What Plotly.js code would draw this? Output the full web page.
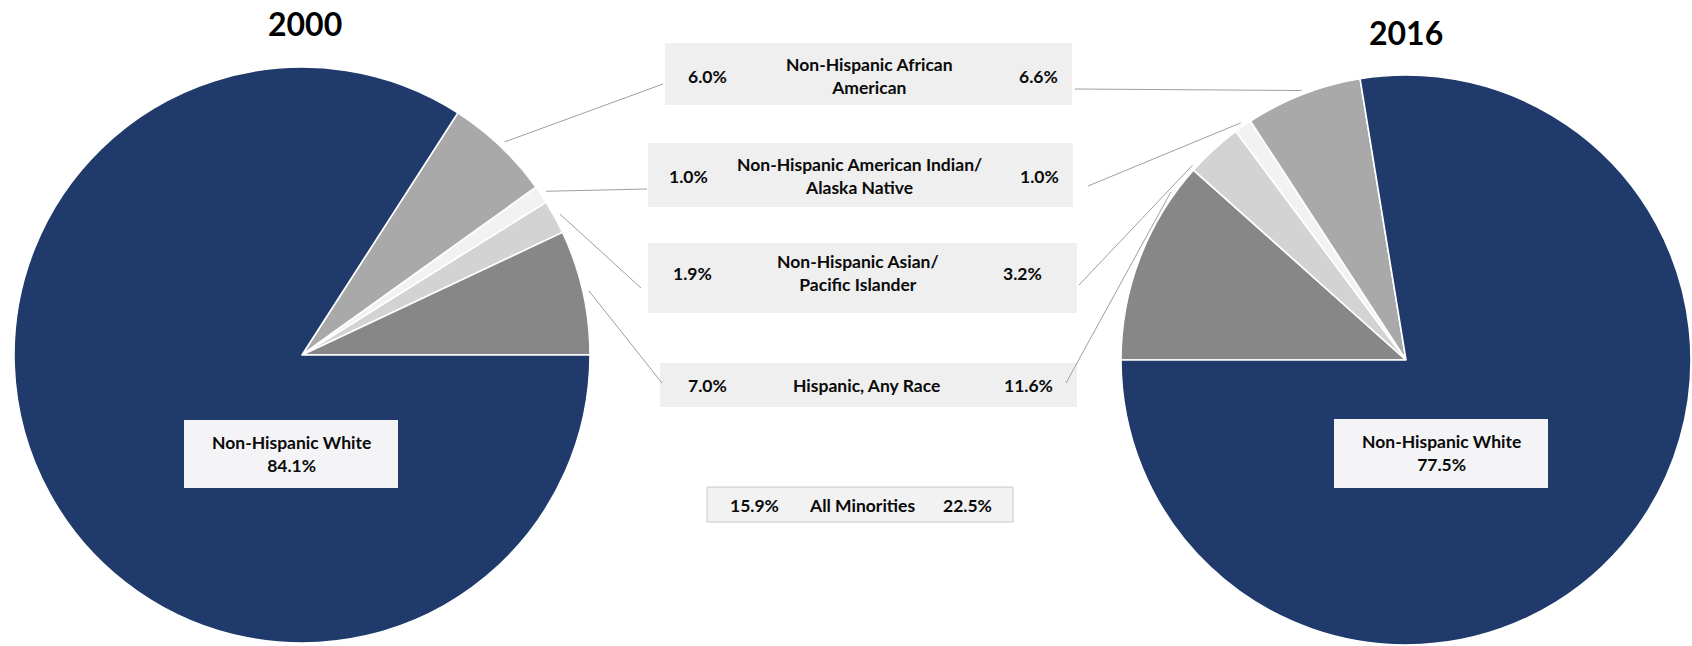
<!DOCTYPE html>
<html>
<head>
<meta charset="utf-8">
<script src="https://cdn.plot.ly/plotly-3.0.1.min.js"></script>
<style>html,body{margin:0;padding:0;background:#fff;}#chart{width:1692px;height:646px;}</style>
</head>
<body>
<div id="chart"></div>
<script>
// ---------------- DATA ----------------
const categories = ["Non-Hispanic African American", "Non-Hispanic American Indian/Alaska Native", "Non-Hispanic Asian/Pacific Islander", "Hispanic, Any Race", "Non-Hispanic White"];
const categoryLabels = ["Non-Hispanic African<br>American", "Non-Hispanic American Indian/<br>Alaska Native", "Non-Hispanic Asian/<br>Pacific Islander", "Hispanic, Any Race"];
const whiteLabel = "Non-Hispanic White";
const years = ["2000", "2016"];
const values2000 = [6.0, 1.0, 1.9, 7.0, 84.1];
const values2016 = [6.6, 1.0, 3.2, 11.6, 77.5];
const minoritiesLabel = "All Minorities";
const minorities2000 = 15.9;
const minorities2016 = 22.5;

// ---------------- STYLE / LAYOUT ----------------
const W = 1692, H = 646;
const sliceColors = ["#A9A9A9", "#F2F2F2", "#D3D3D3", "#878787", "#1F3A6B"];
const FONT = "Lato, 'Open Sans', Arial, sans-serif";
const pies = [
  {cx: 302, cy: 355, r: 288},
  {cx: 1406, cy: 360, r: 285}
];
const titlePos = [{x: 305, y: 24}, {x: 1406, y: 32}];
const rowBoxes = [
  {x0: 665, x1: 1072, y0: 43, y1: 105},
  {x0: 648, x1: 1073, y0: 143, y1: 207},
  {x0: 648, x1: 1077, y0: 243, y1: 313},
  {x0: 660, x1: 1077, y0: 363, y1: 407}
];
const rowText = [
  {l: 707, c: 869, r: 1038, y: 76},
  {l: 688, c: 859, r: 1039, y: 176},
  {l: 692, c: 858, r: 1023, y: 273},
  {l: 707, c: 866, r: 1028, y: 385}
];
const leaderLeftEnds = [[663, 84], [647, 189], [641, 288], [662, 383]];
const leaderRightEnds = [[1075, 89], [1088, 186], [1079, 285], [1066, 383]];
const leaderFracLeft = [0.5, 0.5, 0.5, 0.5];
const leaderFracRight = [0.5, 0.5, 0.05, 0.85];
const minBox = {x0: 707, x1: 1013, y0: 487, y1: 522};
const minText = {l: 754, c: 862, r: 967, y: 505};
const whiteBoxes = [
  {x0: 184, x1: 398, y0: 420, y1: 488, cx: 291, cy: 454},
  {x0: 1334, x1: 1548, y0: 419, y1: 488, cx: 1441, cy: 453}
];

const px = x => x / W;
const py = y => 1 - y / H;
const fmt = v => v.toFixed(1) + "%";

// slice order for drawing: left pie clockwise minorities then white; right pie clockwise with minorities reversed
const orderLeft = [0, 1, 2, 3, 4];
const orderRight = [3, 2, 1, 0, 4];

function sumMinor(vals) { return vals.slice(0, 4).reduce((a, b) => a + b, 0); }
const total2000 = values2000.reduce((a, b) => a + b, 0);
const rotLeft = 90 - 360 * sumMinor(values2000) / total2000;   // minorities end at 3 o'clock
const rotRight = -90;                                             // minorities start at 9 o'clock

function pieTrace(vals, order, rot, geo) {
  return {
    type: "pie",
    values: order.map(i => vals[i]),
    labels: order.map(i => categories[i]),
    marker: {colors: order.map(i => sliceColors[i]), line: {color: "#FFFFFF", width: 1.6}},
    sort: false,
    direction: "clockwise",
    rotation: rot,
    textinfo: "none",
    textposition: "none",
    hoverinfo: "label+percent",
    showlegend: false,
    domain: {x: [px(geo.cx - geo.r), px(geo.cx + geo.r)], y: [py(geo.cy + geo.r), py(geo.cy - geo.r)]}
  };
}

// angle (deg clockwise from top) inside slice for category k
function sliceAngle(vals, order, rot, k, frac) {
  const total = vals.reduce((a, b) => a + b, 0);
  let a = rot;
  for (const i of order) {
    const span = 360 * vals[i] / total;
    if (i === k) return a + span * frac;
    a += span;
  }
  return a;
}
function edgePoint(geo, angDeg, extra) {
  const t = angDeg * Math.PI / 180;
  return [geo.cx + (geo.r + extra) * Math.sin(t), geo.cy - (geo.r + extra) * Math.cos(t)];
}

const shapes = [];
const annotations = [];
const labFont = {family: FONT, size: 17.5, color: "#0A0A0A", weight: "bold"};

// middle rows
for (let k = 0; k < 4; k++) {
  const b = rowBoxes[k];
  shapes.push({type: "rect", xref: "paper", yref: "paper", x0: px(b.x0), x1: px(b.x1), y0: py(b.y1), y1: py(b.y0),
    fillcolor: "#EFEFEF", line: {width: 0}, layer: "below"});
  const t = rowText[k];
  annotations.push({xref: "paper", yref: "paper", x: px(t.l), y: py(t.y), text: fmt(values2000[k]), showarrow: false, xanchor: "center", yanchor: "middle", font: labFont});
  annotations.push({xref: "paper", yref: "paper", x: px(t.c), y: py(t.y), text: categoryLabels[k], showarrow: false, xanchor: "center", yanchor: "middle", font: labFont, align: "center"});
  annotations.push({xref: "paper", yref: "paper", x: px(t.r), y: py(t.y), text: fmt(values2016[k]), showarrow: false, xanchor: "center", yanchor: "middle", font: labFont});
  // leaders
  const aL = sliceAngle(values2000, orderLeft, rotLeft, k, leaderFracLeft[k]);
  const pL = edgePoint(pies[0], aL, 6);
  shapes.push({type: "line", xref: "paper", yref: "paper", x0: px(pL[0]), y0: py(pL[1]), x1: px(leaderLeftEnds[k][0]), y1: py(leaderLeftEnds[k][1]),
    line: {color: "#9E9E9E", width: 1}});
  const aR = sliceAngle(values2016, orderRight, rotRight, k, leaderFracRight[k]);
  const pR = edgePoint(pies[1], aR, 4);
  shapes.push({type: "line", xref: "paper", yref: "paper", x0: px(leaderRightEnds[k][0]), y0: py(leaderRightEnds[k][1]), x1: px(pR[0]), y1: py(pR[1]),
    line: {color: "#9E9E9E", width: 1}});
}

// all minorities box
shapes.push({type: "rect", xref: "paper", yref: "paper", x0: px(minBox.x0), x1: px(minBox.x1), y0: py(minBox.y1), y1: py(minBox.y0),
  fillcolor: "#F2F2F2", line: {color: "#C8C8C8", width: 1}, layer: "below"});
annotations.push({xref: "paper", yref: "paper", x: px(minText.l), y: py(minText.y), text: fmt(minorities2000), showarrow: false, xanchor: "center", yanchor: "middle", font: labFont});
annotations.push({xref: "paper", yref: "paper", x: px(minText.c), y: py(minText.y), text: minoritiesLabel, showarrow: false, xanchor: "center", yanchor: "middle", font: labFont});
annotations.push({xref: "paper", yref: "paper", x: px(minText.r), y: py(minText.y), text: fmt(minorities2016), showarrow: false, xanchor: "center", yanchor: "middle", font: labFont});

// white labels
const whiteVals = [values2000[4], values2016[4]];
for (let j = 0; j < 2; j++) {
  const b = whiteBoxes[j];
  shapes.push({type: "rect", xref: "paper", yref: "paper", x0: px(b.x0), x1: px(b.x1), y0: py(b.y1), y1: py(b.y0),
    fillcolor: "#F4F4F6", line: {width: 0}, layer: "above"});
  annotations.push({xref: "paper", yref: "paper", x: px(b.cx), y: py(b.cy), text: whiteLabel + "<br>" + fmt(whiteVals[j]), showarrow: false,
    xanchor: "center", yanchor: "middle", align: "center", font: labFont});
}

// titles
for (let j = 0; j < 2; j++) {
  annotations.push({xref: "paper", yref: "paper", x: px(titlePos[j].x), y: py(titlePos[j].y), text: years[j], showarrow: false,
    xanchor: "center", yanchor: "middle", font: {family: FONT, size: 32, color: "#000000", weight: "bold"}});
}

const data = [
  pieTrace(values2000, orderLeft, rotLeft, pies[0]),
  pieTrace(values2016, orderRight, rotRight, pies[1])
];

const layout = {
  width: W, height: H,
  margin: {l: 0, r: 0, t: 0, b: 0},
  paper_bgcolor: "#FFFFFF",
  plot_bgcolor: "#FFFFFF",
  showlegend: false,
  shapes: shapes,
  annotations: annotations
};

Plotly.newPlot("chart", data, layout, {displayModeBar: false, staticPlot: true});
</script>
</body>
</html>
